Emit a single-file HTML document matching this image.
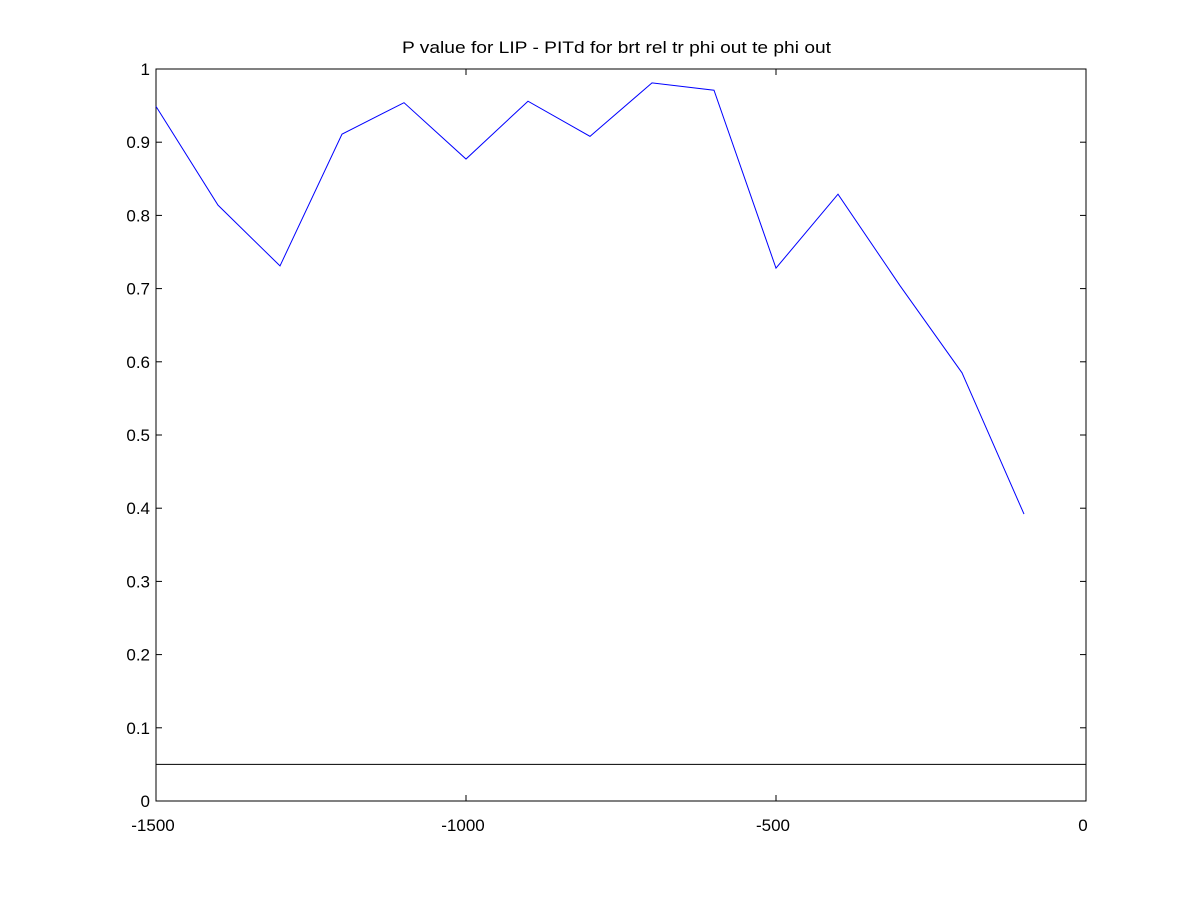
<!DOCTYPE html>
<html><head><meta charset="utf-8"><style>
body{margin:0;background:#fff;}
svg text{font-family:"Liberation Sans",sans-serif;font-size:17px;fill:#000;}
</style></head><body>
<svg width="1200" height="900" xmlns="http://www.w3.org/2000/svg">
<rect width="1200" height="900" fill="#fff"/>
<g id="g"></g>
</svg>
<script>
const xVals=[-1500,-1400,-1300,-1200,-1100,-1000,-900,-800,-700,-600,-500,-400,-300,-200,-100];
const pVals=[0.949,0.814,0.731,0.911,0.954,0.877,0.956,0.908,0.981,0.971,0.728,0.829,0.704,0.585,0.392];
const xTicks=[-1500,-1000,-500,0];
const yTicks=[0,0.1,0.2,0.3,0.4,0.5,0.6,0.7,0.8,0.9,1];
const threshold=[0.05];
const L=156,R=1086,T=69,B=801;
const sx=v=>L+(v+1500)/1500*(R-L);
const sy=v=>B-v*(B-T);
const g=document.getElementById('g');
const NS='http://www.w3.org/2000/svg';
function el(tag,attrs){const e=document.createElementNS(NS,tag);for(const k in attrs)e.setAttribute(k,attrs[k]);g.appendChild(e);return e;}
let f=el('rect',{x:L,y:T,width:R-L,height:B-T,fill:'none',stroke:'#000','stroke-width':1});


xTicks.forEach(v=>{
 const x=sx(v);
 let a=el('line',{x1:x,y1:B,x2:x,y2:B-6,stroke:'#000'});
 
 
 let b=el('line',{x1:x,y1:T,x2:x,y2:T+6,stroke:'#000'});
 
 
 let t=el('text',{x:x-3,y:B+30,'text-anchor':'middle'});t.textContent=v;
 
 
});
yTicks.forEach(v=>{
 const y=sy(v);
 let a=el('line',{x1:L,y1:y,x2:L+6,y2:y,stroke:'#000'});
 
 
 let b=el('line',{x1:R,y1:y,x2:R-6,y2:y,stroke:'#000'});
 
 
 let t=el('text',{x:L-6,y:y+6,'text-anchor':'end'});t.textContent=String(v);
 
 
});
threshold.forEach(v=>{
 let l=el('line',{x1:L,y1:sy(v),x2:R,y2:sy(v),stroke:'#000'});
 
 
});
let p=el('polyline',{points:xVals.map((x,i)=>sx(x)+','+sy(pVals[i])).join(' '),fill:'none',stroke:'#0000ff','stroke-width':1});


let title=el('text',{x:402,y:53,'text-anchor':'start',textLength:429,lengthAdjust:'spacingAndGlyphs'});
title.textContent='P value for LIP - PITd for brt rel tr phi out te phi out';


</script>
</body></html>
